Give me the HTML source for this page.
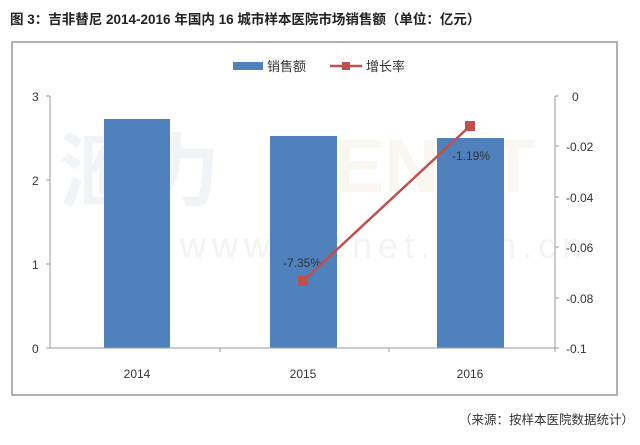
<!DOCTYPE html>
<html><head><meta charset="utf-8"><style>
body{margin:0;background:#fff;width:640px;height:440px;overflow:hidden;font-family:"Liberation Sans","Noto Sans CJK SC",sans-serif}
</style></head><body>
<svg width="640" height="440" xmlns="http://www.w3.org/2000/svg" font-family="Liberation Sans, Noto Sans CJK SC, sans-serif">
<text x="10" y="24" font-size="13.5" font-weight="bold" fill="#222">图 3：吉非替尼 2014-2016 年国内 16 城市样本医院市场销售额（单位：亿元）</text>
<rect x="12" y="42" width="605" height="353" fill="#fff" stroke="#999" stroke-width="1.5"/>
<text x="60" y="200" font-size="80" font-weight="bold" fill="#f1f4f7">滙力</text>
<text x="270" y="192" font-size="76" font-weight="bold" fill="#faf7f0">MENET</text>
<text x="180" y="258" font-size="36" fill="#f4f4f4" letter-spacing="6">www.menet.com.cn</text>
<rect x="233" y="62" width="30" height="8" fill="#4f81bd"/>
<text x="267" y="71" font-size="13" fill="#333">销售额</text>
<line x1="330" y1="66" x2="362" y2="66" stroke="#c0504d" stroke-width="2.5"/>
<rect x="342" y="62" width="8" height="8" fill="#c0504d"/>
<text x="366" y="71" font-size="13" fill="#333">增长率</text>
<rect x="104" y="119" width="66" height="229" fill="#4f81bd"/>
<rect x="270" y="136" width="67" height="212" fill="#4f81bd"/>
<rect x="437" y="138" width="67" height="210" fill="#4f81bd"/>
<g stroke="#999" stroke-width="1">
<line x1="50" y1="96" x2="50" y2="348"/><line x1="46" y1="96" x2="50" y2="96"/><line x1="46" y1="180" x2="50" y2="180"/><line x1="46" y1="264" x2="50" y2="264"/><line x1="46" y1="348" x2="555" y2="348"/>
<line x1="555" y1="96" x2="555" y2="348"/>
<line x1="555" y1="96" x2="559" y2="96"/><line x1="555" y1="146" x2="559" y2="146"/><line x1="555" y1="197" x2="559" y2="197"/><line x1="555" y1="247" x2="559" y2="247"/><line x1="555" y1="298" x2="559" y2="298"/><line x1="555" y1="348" x2="559" y2="348"/>
<line x1="220" y1="348" x2="220" y2="352"/><line x1="389" y1="348" x2="389" y2="352"/><line x1="555" y1="348" x2="555" y2="352"/>
</g>
<g font-size="12" fill="#333">
<text x="32" y="101">3</text><text x="32" y="185">2</text><text x="32" y="269">1</text><text x="32" y="353">0</text>
<text x="572" y="101">0</text><text x="566" y="151">-0.02</text><text x="566" y="202">-0.04</text><text x="566" y="252">-0.06</text><text x="566" y="303">-0.08</text><text x="566" y="353">-0.1</text>
<text x="137" y="378" text-anchor="middle">2014</text><text x="303" y="378" text-anchor="middle">2015</text><text x="470" y="378" text-anchor="middle">2016</text>
<text x="283" y="267">-7.35%</text><text x="452" y="160">-1.19%</text>
</g>
<line x1="303" y1="281" x2="470" y2="126" stroke="#c0504d" stroke-width="2.5"/>
<rect x="298" y="276" width="10" height="10" fill="#c0504d"/>
<rect x="465" y="121" width="10" height="10" fill="#c0504d"/>
<text x="634" y="424" font-size="12.5" fill="#333" text-anchor="end">（来源：按样本医院数据统计）</text>
</svg>
</body></html>
